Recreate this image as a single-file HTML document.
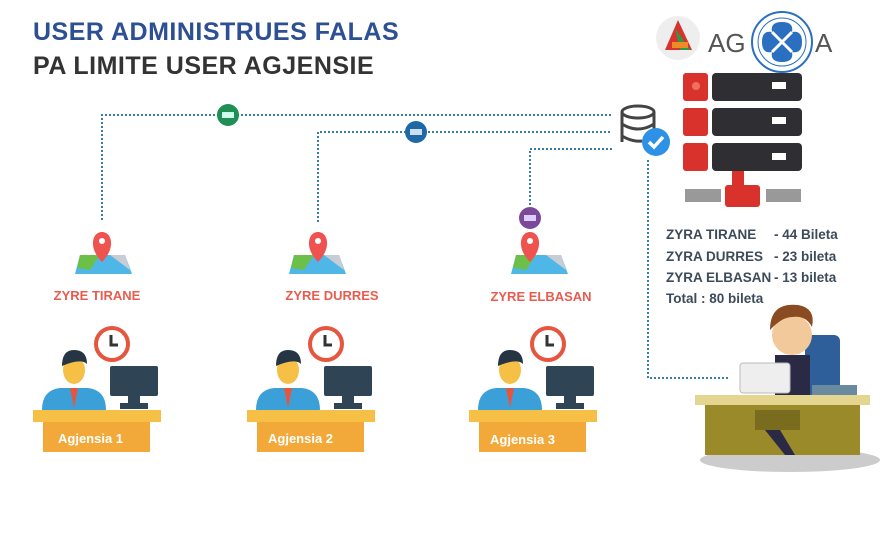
<!DOCTYPE html>
<html><head><style>
html,body{margin:0;padding:0;background:#fff;}
svg{display:block;font-family:"Liberation Sans",sans-serif;}
</style></head><body>
<svg width="886" height="554" viewBox="0 0 886 554" xmlns="http://www.w3.org/2000/svg">
<rect width="886" height="554" fill="#fff"/>
<text x="33" y="40" font-size="25" font-weight="bold" fill="#2d4f93" letter-spacing="0.5">USER ADMINISTRUES FALAS</text>
<text x="33" y="74" font-size="25" font-weight="bold" fill="#333" letter-spacing="0.5">PA LIMITE USER AGJENSIE</text>

<g stroke="#3a7ca8" stroke-width="2" stroke-dasharray="2 2" fill="none">
<path d="M102 220 V115 H612"/>
<path d="M318 222 V132 H612"/>
<path d="M530 205 V149 H612"/>
<path d="M648 160 V378 H728"/>
</g>
<circle cx="228" cy="115" r="11" fill="#1f8f55"/><rect x="222" y="112" width="12" height="6" fill="#cfe" />
<circle cx="416" cy="132" r="11" fill="#1f68a8"/><rect x="410" y="129" width="12" height="6" fill="#cde"/>
<circle cx="530" cy="218" r="11" fill="#7a4a98"/><rect x="524" y="215" width="12" height="6" fill="#dcf"/>

<!-- db -->
<g fill="none" stroke="#444" stroke-width="3">
<ellipse cx="638" cy="112" rx="16" ry="6"/>
<path d="M622 112 V142 M654 112 V130 M622 124 Q638 134 654 124 M622 136 Q632 142 642 141"/>
</g>
<circle cx="656" cy="142" r="14" fill="#2d92e6"/>
<path d="M649 142 l5 5 l9 -10" stroke="#fff" stroke-width="3.5" fill="none"/>

<!-- logo -->
<circle cx="678" cy="38" r="22" fill="#eee"/>
<path d="M665 50 L678 20 L692 50 Z" fill="#d8322f"/>
<path d="M675 28 L690 50 L680 50 Z" fill="#2a9a44"/>
<rect x="672" y="42" width="16" height="6" fill="#f08a24"/>
<text x="708" y="52" font-size="26" fill="#555">AG</text>
<text x="815" y="52" font-size="26" fill="#555">A</text>
<circle cx="782" cy="42" r="30" fill="#fff" stroke="#2a6fc0" stroke-width="2"/>
<circle cx="782" cy="42" r="24" fill="none" stroke="#2a6fc0" stroke-width="1"/>
<path d="M782 22 q12 0 10 10 q10 -2 10 10 q0 12 -10 10 q2 10 -10 10 q-12 0 -10 -10 q-10 2 -10 -10 q0 -12 10 -10 q-2 -10 10 -10z" fill="#2a6fc0"/>
<path d="M772 32 L792 52 M792 32 L772 52" stroke="#fff" stroke-width="3"/>

<!-- server -->
<g>
<rect x="683" y="73" width="25" height="28" rx="3" fill="#d9322d"/><rect x="712" y="73" width="90" height="28" rx="4" fill="#2f2f33"/><rect x="772" y="82" width="14" height="7" fill="#fff"/><circle cx="696" cy="86" r="4" fill="#f07060"/>
<rect x="683" y="108" width="25" height="28" rx="3" fill="#d9322d"/><rect x="712" y="108" width="90" height="28" rx="4" fill="#2f2f33"/><rect x="772" y="117" width="14" height="7" fill="#fff"/>
<rect x="683" y="143" width="25" height="28" rx="3" fill="#d9322d"/><rect x="712" y="143" width="90" height="28" rx="4" fill="#2f2f33"/><rect x="772" y="153" width="14" height="7" fill="#fff"/>
<rect x="732" y="171" width="12" height="16" fill="#d9322d"/>
<rect x="725" y="185" width="35" height="22" rx="3" fill="#d9322d"/>
<rect x="685" y="189" width="36" height="13" fill="#999"/><rect x="766" y="189" width="35" height="13" fill="#999"/>
</g>
<g font-size="13.5" font-weight="bold" fill="#3d4a5a">
<text x="666" y="239">ZYRA TIRANE</text><text x="774" y="239">- 44 Bileta</text>
<text x="666" y="261">ZYRA DURRES</text><text x="774" y="261">- 23 bileta</text>
<text x="666" y="282">ZYRA ELBASAN</text><text x="774" y="282">- 13 bileta</text>
<text x="666" y="303">Total : 80 bileta</text>
</g>

<!-- right person -->
<ellipse cx="790" cy="460" rx="90" ry="12" fill="#ccc"/>
<rect x="805" y="335" width="35" height="60" rx="6" fill="#2f5f9a"/>
<circle cx="792" cy="335" r="20" fill="#f2c99a"/>
<path d="M770 330 q0 -28 28 -25 q18 3 14 22 q-6 -12 -20 -10 q-10 0 -22 13z" fill="#8a4a22"/>
<path d="M775 355 h35 v40 h-35z" fill="#2a2a45"/>
<rect x="740" y="363" width="50" height="30" rx="3" fill="#eee" stroke="#bbb"/>
<rect x="812" y="385" width="45" height="12" fill="#6a8aa0"/>
<rect x="695" y="395" width="175" height="10" fill="#e4d690"/>
<rect x="705" y="405" width="155" height="50" fill="#9a8a2a"/>
<rect x="755" y="410" width="45" height="20" fill="#7a6c1e"/>
<path d="M765 430 l20 25 h10 l-15 -25z" fill="#2a2a45"/>

<!-- three groups -->
<g id="g1">
<path d="M75 274 L80 255 L125 255 L132 274 Z" fill="#4fb7e8"/>
<path d="M80 255 L100 255 L90 270 L77 268 Z" fill="#6cc04a"/>
<path d="M110 255 L125 255 L130 270 Z" fill="#c8ccd4"/>
<path d="M102 262 c-14 -14 -10 -30 0 -30 c10 0 14 16 0 30z" fill="#ef5350"/>
<circle cx="102" cy="241" r="3" fill="#fff"/>
<text x="97" y="300" font-size="13" font-weight="bold" fill="#ea5b4f" text-anchor="middle">ZYRE TIRANE</text>
<circle cx="112" cy="344" r="16" fill="#fff" stroke="#e8553f" stroke-width="4"/>
<path d="M111 335 v10 h7" stroke="#333" stroke-width="3" fill="none"/>
<rect x="110" y="366" width="48" height="30" rx="2" fill="#2f4455"/>
<rect x="128" y="396" width="12" height="8" fill="#2f4455"/><rect x="120" y="403" width="28" height="6" fill="#2f4455"/>
<path d="M42 410 q0 -20 18 -22 h28 q18 2 18 22z" fill="#3ba0d8"/>
<path d="M70 388 l4 20 l4 -20z" fill="#e8553f"/>
<ellipse cx="74" cy="370" rx="11" ry="14" fill="#f5c045"/>
<path d="M62 366 q0 -16 12 -16 q13 0 13 14 q-6 -6 -25 2z" fill="#253544"/>
<rect x="33" y="410" width="128" height="12" fill="#f5c045"/>
<rect x="43" y="422" width="107" height="30" fill="#f3a93a"/>
<text x="58" y="443" font-size="13" font-weight="bold" fill="#fff">Agjensia 1</text>
</g>
<g transform="translate(214,0)">
<path d="M75 274 L80 255 L125 255 L132 274 Z" fill="#4fb7e8"/>
<path d="M80 255 L100 255 L90 270 L77 268 Z" fill="#6cc04a"/>
<path d="M110 255 L125 255 L130 270 Z" fill="#c8ccd4"/>
<path d="M104 262 c-14 -14 -10 -30 0 -30 c10 0 14 16 0 30z" fill="#ef5350"/>
<circle cx="104" cy="241" r="3" fill="#fff"/>
<text x="118" y="300" font-size="13" font-weight="bold" fill="#ea5b4f" text-anchor="middle">ZYRE DURRES</text>
<circle cx="112" cy="344" r="16" fill="#fff" stroke="#e8553f" stroke-width="4"/>
<path d="M111 335 v10 h7" stroke="#333" stroke-width="3" fill="none"/>
<rect x="110" y="366" width="48" height="30" rx="2" fill="#2f4455"/>
<rect x="128" y="396" width="12" height="8" fill="#2f4455"/><rect x="120" y="403" width="28" height="6" fill="#2f4455"/>
<path d="M42 410 q0 -20 18 -22 h28 q18 2 18 22z" fill="#3ba0d8"/>
<path d="M70 388 l4 20 l4 -20z" fill="#e8553f"/>
<ellipse cx="74" cy="370" rx="11" ry="14" fill="#f5c045"/>
<path d="M62 366 q0 -16 12 -16 q13 0 13 14 q-6 -6 -25 2z" fill="#253544"/>
<rect x="33" y="410" width="128" height="12" fill="#f5c045"/>
<rect x="43" y="422" width="107" height="30" fill="#f3a93a"/>
<text x="54" y="443" font-size="13" font-weight="bold" fill="#fff">Agjensia 2</text>
</g>
<g transform="translate(436,0)">
<path d="M75 274 L80 255 L125 255 L132 274 Z" fill="#4fb7e8"/>
<path d="M80 255 L100 255 L90 270 L77 268 Z" fill="#6cc04a"/>
<path d="M110 255 L125 255 L130 270 Z" fill="#c8ccd4"/>
<path d="M94 262 c-14 -14 -10 -30 0 -30 c10 0 14 16 0 30z" fill="#ef5350"/>
<circle cx="94" cy="241" r="3" fill="#fff"/>
<text x="105" y="301" font-size="13" font-weight="bold" fill="#ea5b4f" text-anchor="middle">ZYRE ELBASAN</text>
<circle cx="112" cy="344" r="16" fill="#fff" stroke="#e8553f" stroke-width="4"/>
<path d="M111 335 v10 h7" stroke="#333" stroke-width="3" fill="none"/>
<rect x="110" y="366" width="48" height="30" rx="2" fill="#2f4455"/>
<rect x="128" y="396" width="12" height="8" fill="#2f4455"/><rect x="120" y="403" width="28" height="6" fill="#2f4455"/>
<path d="M42 410 q0 -20 18 -22 h28 q18 2 18 22z" fill="#3ba0d8"/>
<path d="M70 388 l4 20 l4 -20z" fill="#e8553f"/>
<ellipse cx="74" cy="370" rx="11" ry="14" fill="#f5c045"/>
<path d="M62 366 q0 -16 12 -16 q13 0 13 14 q-6 -6 -25 2z" fill="#253544"/>
<rect x="33" y="410" width="128" height="12" fill="#f5c045"/>
<rect x="43" y="422" width="107" height="30" fill="#f3a93a"/>
<text x="54" y="444" font-size="13" font-weight="bold" fill="#fff">Agjensia 3</text>
</g>
</svg>
</body></html>
